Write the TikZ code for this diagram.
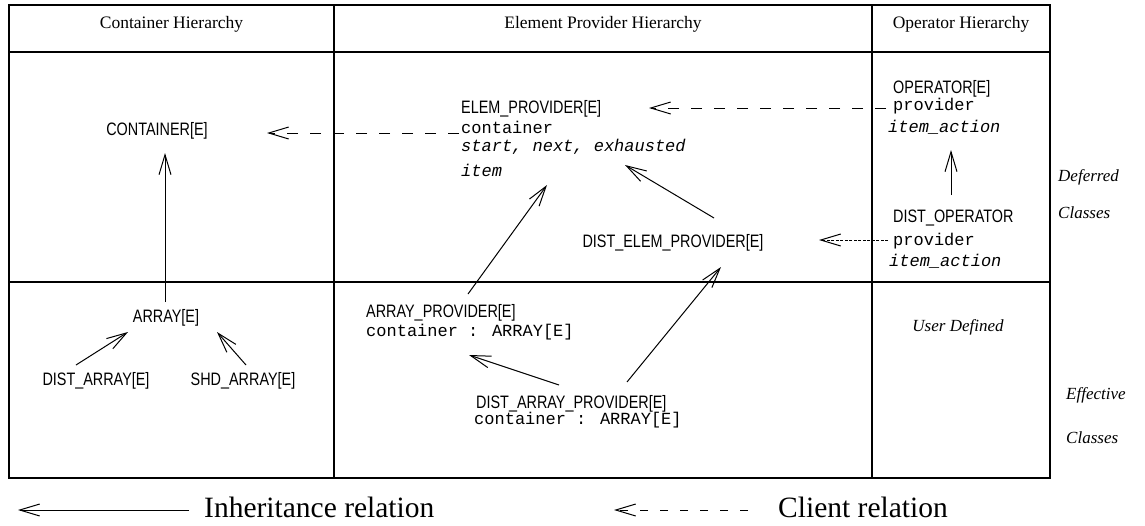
\documentclass[tikz,border=0pt]{standalone}
\usepackage{fontspec}
\setmainfont{Liberation Serif}
\newfontfamily\hvfont[FakeStretch=0.8]{Liberation Sans}
\newfontfamily\crfont{Liberation Mono}
\usetikzlibrary{arrows.meta,calc}
\tikzset{
 cls/.style={inner sep=0pt, font=\hvfont\fontsize{18}{20}\selectfont},
 feat/.style={inner sep=0pt, font=\crfont\fontsize{17}{19}\selectfont},
 ifeat/.style={inner sep=0pt, font=\crfont\itshape\fontsize{17}{19}\selectfont},
 hdr/.style={inner sep=0pt, font=\fontsize{17.5}{20}\selectfont},
 side/.style={inner sep=0pt, font=\itshape\fontsize{17}{20}\selectfont},
 legendtext/.style={inner sep=0pt, font=\fontsize{29.5}{32}\selectfont},
 gridline/.style={line width=2.4pt},
 inh/.style={line width=1pt, -{Straight Barb[length=20pt,width=12pt]}},
 client/.style={inh, dash pattern=on 11pt off 12pt},
 fineclient/.style={inh, dash pattern=on 3pt off 1.5pt},
}
\begin{document}
\begin{tikzpicture}[x=1pt,y=-1pt]
\useasboundingbox (0,0) rectangle (1145,525);
% table
\draw[gridline] (9,5) rectangle (1050,478);
\draw[gridline] (9,52) -- (1050,52);
\draw[gridline] (9,282) -- (1050,282);
\draw[gridline] (334,5) -- (334,478);
\draw[gridline] (872,5) -- (872,478);
% headers
\node[hdr, anchor=base] (h1) at (171.5,28) {Container Hierarchy};
\node[hdr, anchor=base] (h2) at (603,28) {Element Provider Hierarchy};
\node[hdr, anchor=base] (h3) at (961,28) {Operator Hierarchy};
% container hierarchy
\node[cls, anchor=base] (cont) at (157,135) {CONTAINER[E]};
\node[cls, anchor=base] (arr) at (166,322) {ARRAY[E]};
\node[cls, anchor=base] (darr) at (96,385) {DIST\_ARRAY[E]};
\node[cls, anchor=base] (sarr) at (243,385) {SHD\_ARRAY[E]};
% element provider hierarchy
\node[cls, anchor=base west] (ep) at (461,113) {ELEM\_PROVIDER[E]};
\node[feat, anchor=base west] (epc) at (461,133) {container};
\node[ifeat, anchor=base west] (eps) at (461,151) {start, next, exhausted};
\node[ifeat, anchor=base west] (epi) at (461,176) {item};
\node[cls, anchor=base] (dep) at (673,247) {DIST\_ELEM\_PROVIDER[E]};
\node[cls, anchor=base west] (ap) at (366,317) {ARRAY\_PROVIDER[E]};
\node[feat, anchor=base west] (apc) at (366,336) {container : ARRAY[E]};
\node[cls, anchor=base west] (dap) at (476,408) {DIST\_ARRAY\_PROVIDER[E]};
\node[feat, anchor=base west] (dapc) at (474,424) {container : ARRAY[E]};
% operator hierarchy
\node[cls, anchor=base west] (op) at (893,93) {OPERATOR[E]};
\node[feat, anchor=base west] (opp) at (893,110) {provider};
\node[ifeat, anchor=base west] (opa) at (888,132) {item\_action};
\node[cls, anchor=base west] (dop) at (893,222) {DIST\_OPERATOR};
\node[feat, anchor=base west] (dopp) at (893,245) {provider};
\node[ifeat, anchor=base west] (dopa) at (889,266) {item\_action};
\node[side, anchor=base] (ud) at (958,331) {User Defined};
% side labels
\node[side, anchor=base west] (def) at (1058,181) {Deferred};
\node[side, anchor=base west] (defc) at (1058,218) {Classes};
\node[side, anchor=base west] (eff) at (1066,399) {Effective};
\node[side, anchor=base west] (effc) at (1066,443) {Classes};
% inheritance arrows
\draw[inh] ($(darr.base)+(-20,-20)$) -- ($(arr.base)+(-38,10)$);
\draw[inh] ($(sarr.base)+(3,-20)$) -- ($(arr.base)+(51,10)$);
\draw[inh] ($(arr.base)+(-1,-20)$) -- ($(cont.base)+(8,18)$);
\draw[inh] ($(ap.base west)+(102,-23)$) -- ($(epi.base west)+(86,9)$);
\draw[inh] ($(dep.base)+(41,-29)$) -- ($(eps.base west)+(164,14)$);
\draw[inh] ($(dap.base west)+(83,-23)$) -- ($(apc.base west)+(103,19)$);
\draw[inh] ($(dap.base west)+(151,-26)$) -- ($(dep.base)+(48,20)$);
\draw[inh] ($(dop.base west)+(58,-27)$) -- ($(opa.base west)+(63,18)$);
% client arrows
\draw[client] ($(epc.base west)+(-2,0)$) -- ($(cont.base)+(110,-2)$);
\draw[client] ($(opp.base west)+(-7,-2)$) -- ($(ep.base west)+(188,-5)$);
\draw[fineclient] ($(dopp.base west)+(-5,-5)$) -- ($(dep.base)+(146,-7)$);
% legend
\node[legendtext, anchor=base west] (leg1) at (204,517) {Inheritance relation};
\node[legendtext, anchor=base west] (leg2) at (778,517) {Client relation};
\coordinate (l1tip) at (18,510);
\coordinate (l2tip) at (614,510);
\draw[inh] ($(leg1.base west)+(-15,-7)$) -- (l1tip);
\draw[client, dash pattern=on 8pt off 12pt] ($(leg2.base west)+(-30,-7)$) -- (l2tip);
\end{tikzpicture}
\end{document}
